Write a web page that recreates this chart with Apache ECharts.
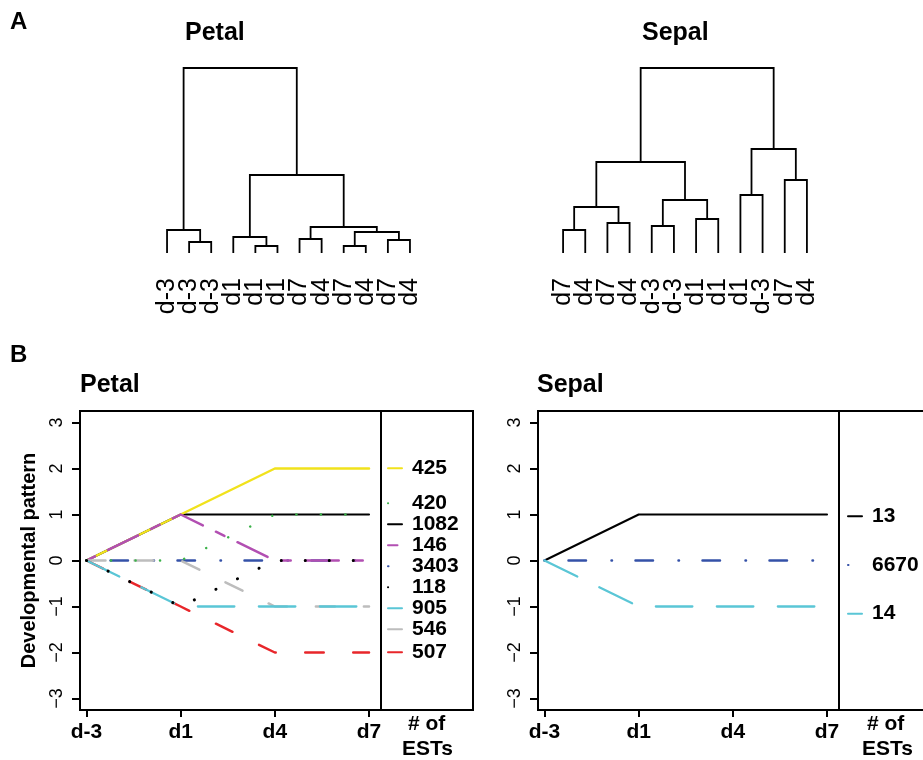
<!DOCTYPE html>
<html>
<head>
<meta charset="utf-8">
<script src="https://cdn.jsdelivr.net/npm/echarts@6/dist/echarts.min.js"></script>
<style>
  html, body { margin: 0; padding: 0; background: #fff; }
  #chart { width: 923px; height: 760px; }
</style>
</head>
<body>
<div id="chart"></div>
<script>
// A: dendrograms, leaves in plotted order; merges like hclust (-i = leaf i, k = k-th merge)
const petalLeaves = ['d-3', 'd-3', 'd-3', 'd1', 'd1', 'd1', 'd7', 'd4', 'd7', 'd4', 'd7', 'd4']
const petalMerge = [[-2, -3], [-1, 1], [-5, -6], [-4, 3], [-7, -8], [-9, -10], [-11, -12], [6, 7], [5, 8], [4, 9], [2, 10]]
const petalHeight = [1.1, 2.3, 0.7, 1.6, 1.4, 0.7, 1.3, 2.1, 2.6, 7.8, 18.5]

const sepalLeaves = ['d7', 'd4', 'd7', 'd4', 'd-3', 'd-3', 'd1', 'd1', 'd1', 'd-3', 'd7', 'd4']
const sepalMerge = [[-1, -2], [-3, -4], [1, 2], [-5, -6], [-7, -8], [4, 5], [3, 6], [-9, -10], [-11, -12], [8, 9], [7, 10]]
const sepalHeight = [2.3, 3.0, 4.6, 2.7, 3.4, 5.3, 9.1, 5.8, 7.3, 10.4, 18.5]

// B: developmental patterns
const days = ['d-3', 'd1', 'd4', 'd7']
const yTicks = [-3, -2, -1, 0, 1, 2, 3]
const petalNames = ['425', '420', '1082', '146', '3403', '118', '905', '546', '507']
const petalPatterns = [
  [0, 1, 2, 2],
  [0, 0, 1, 1],
  [0, 1, 1, 1],
  [0, 1, 0, 0],
  [0, 0, 0, 0],
  [0, -1, 0, 0],
  [0, -1, -1, -1],
  [0, 0, -1, -1],
  [0, -1, -2, -2]
]
const sepalNames = ['13', '6670', '14']
const sepalPatterns = [[0, 1, 1, 1], [0, 0, 0, 0], [0, -1, -1, -1]]

// line look per pattern (R-like dash sequences)
const looks = {
  '425':  { color: '#f1e21c', width: 2.5, type: 'solid' },
  '420':  { color: '#3cb24a', width: 2.5, type: [0.1, 24.4] },
  '1082': { color: '#000000', width: 2, type: 'solid' },
  '146':  { color: '#b24fb2', width: 2.5, type: [9.5, 14.5, 33.5, 14.5] },
  '3403': { color: '#3451a8', width: 2.5, type: [0.5, 23.5, 17.5, 25.5] },
  '118':  { color: '#000000', width: 3, type: [0.1, 23.9] },
  '905':  { color: '#5ac6d6', width: 2.3, type: [36.5, 24.5] },
  '546':  { color: '#bdbdbd', width: 2.5, type: [19, 29] },
  '507':  { color: '#e8262a', width: 2.5, type: [18.5, 29.5] },
  '13':   { color: '#000000', width: 2, type: 'solid' },
  '6670': { color: '#3451a8', width: 2.5, type: [0.5, 23.5, 17.5, 25.5] },
  '14':   { color: '#5ac6d6', width: 2.3, type: [36.5, 24.5] }
}
const petalDrawOrder = ['1082', '425', '3403', '146', '546', '507', '905', '420', '118']

const font = '"Liberation Sans", Arial, sans-serif'

function dendroLines(merge, height) {
  const pos = []
  const node = k => k < 0 ? [-k - 1, 0] : [pos[k - 1], height[k - 1]]
  return merge.map((m, i) => {
    const a = node(m[0]), b = node(m[1])
    pos[i] = (a[0] + b[0]) / 2
    return { coords: [[a[0], a[1]], [a[0], height[i]], [b[0], height[i]], [b[0], b[1]]] }
  })
}

function dendroSeries(grid, merge, height, leaves) {
  return [
    {
      type: 'lines', coordinateSystem: 'cartesian2d', xAxisIndex: grid, yAxisIndex: grid,
      polyline: true, silent: true, lineStyle: { color: '#000', width: 1.8, opacity: 1 },
      data: dendroLines(merge, height)
    },
    {
      // leaf labels hanging under each leaf
      type: 'scatter', xAxisIndex: grid, yAxisIndex: grid, silent: true,
      symbolSize: 0, itemStyle: { opacity: 1 },
      data: leaves.map((l, i) => [i, 0]),
      label: {
        show: true, position: 'bottom', distance: 25, rotate: 90, opacity: 1,
        align: 'right', verticalAlign: 'middle', padding: [0, 0, 8, 0],
        fontSize: 25, color: '#000', fontFamily: font,
        formatter: p => leaves[p.dataIndex]
      }
    }
  ]
}

function dendroX(grid) {
  return { type: 'value', gridIndex: grid, min: -0.5, max: 11.5, show: false }
}

function patternX(grid) {
  return {
    type: 'value', gridIndex: grid, min: -0.069, max: 4.104,
    axisLine: { show: false, onZero: false }, splitLine: { show: false },
    axisTick: { customValues: [0, 1, 2, 3], length: 7, lineStyle: { color: '#000', width: 2 } },
    axisLabel: {
      customValues: [0, 1, 2, 3], margin: 12, fontSize: 21, fontWeight: 'bold',
      color: '#000', fontFamily: font, formatter: v => days[Math.round(v)]
    }
  }
}

function patternY(grid, name) {
  return {
    type: 'value', gridIndex: grid, min: -3.25, max: 3.25,
    name: name, nameLocation: 'middle', nameGap: 41, nameRotate: 90,
    nameTextStyle: { fontSize: 20, fontWeight: 'bold', color: '#000', fontFamily: font },
    axisLine: { show: false, onZero: false }, splitLine: { show: false },
    axisTick: { customValues: yTicks, length: 8, lineStyle: { color: '#000', width: 2 } },
    axisLabel: {
      customValues: yTicks, rotate: 90, margin: 14, fontSize: 18, color: '#000', fontFamily: font,
      formatter: v => v < 0 ? '\u2212' + (-v) : String(v)
    }
  }
}

function patternSeries(name, values, grid, withDivider) {
  const lk = looks[name]
  const s = {
    type: 'line', name: name, xAxisIndex: grid, yAxisIndex: grid,
    data: values.map((v, i) => [i, v]),
    symbol: 'none', silent: true,
    lineStyle: { color: lk.color, width: lk.width, type: lk.type, cap: 'round', join: 'round' },
    itemStyle: { color: lk.color }
  }
  if (withDivider) {
    s.markLine = {
      silent: true, symbol: ['none', 'none'], label: { show: false },
      lineStyle: { color: '#000', type: 'solid', width: 2 },
      data: [{ xAxis: 3.117 }]
    }
  }
  return s
}

function legend(names, left, top, gap) {
  return {
    data: names, orient: 'vertical', left: left, top: top, padding: 0,
    itemGap: gap, itemWidth: 14, itemHeight: 12, selectedMode: false,
    itemStyle: { color: 'rgba(0,0,0,0)', borderWidth: 0 },
    textStyle: { fontSize: 21, fontWeight: 'bold', color: '#000', fontFamily: font, lineHeight: 18.33, padding: [0, 0, 0, 5] }
  }
}

function title(text, left, top, size) {
  return { text: text, left: left, top: top, padding: 0,
    textStyle: { fontSize: size, fontWeight: 'bold', color: '#000', fontFamily: font } }
}

const series = []
  .concat(dendroSeries(0, petalMerge, petalHeight, petalLeaves))
  .concat(dendroSeries(1, sepalMerge, sepalHeight, sepalLeaves))
petalDrawOrder.forEach((n, i) => {
  series.push(patternSeries(n, petalPatterns[petalNames.indexOf(n)], 2, i === 0))
})
sepalNames.forEach((n, i) => {
  series.push(patternSeries(n, sepalPatterns[i], 3, i === 0))
})

const gridBox = { show: true, borderColor: '#000', borderWidth: 2, backgroundColor: 'transparent', outerBoundsMode: 'none' }

const chart = echarts.init(document.getElementById('chart'))
chart.setOption({
  animation: false,
  backgroundColor: '#fff',
  title: [
    title('A', 10, 10, 24),
    title('Petal', 185, 21, 25),
    title('Sepal', 642, 21, 25),
    title('B', 10, 343, 24),
    title('Petal', 80, 373, 25),
    title('Sepal', 537, 373, 25),
    title('# of', 408, 714, 21),
    title('ESTs', 402, 739, 21),
    title('# of', 867, 714, 21),
    title('ESTs', 862, 739, 21)
  ],
  legend: [
    legend(['425'], 387, 457.8, 0),
    legend(['420', '1082', '146', '3403', '118', '905', '546'], 387, 492.8, 0),
    legend(['507'], 387, 641.8, 0),
    legend(sepalNames, 847, 505.8, 27.67)
  ],
  grid: [
    { left: 156, top: 68, width: 265, height: 185, outerBoundsMode: 'none' },
    { left: 552, top: 68, width: 266, height: 185, outerBoundsMode: 'none' },
    Object.assign({ left: 80, top: 411, width: 393, height: 299 }, gridBox),
    Object.assign({ left: 538, top: 411, width: 393, height: 299 }, gridBox)
  ],
  xAxis: [dendroX(0), dendroX(1), patternX(2), patternX(3)],
  yAxis: [
    { type: 'value', gridIndex: 0, min: 0, max: 18.5, show: false },
    { type: 'value', gridIndex: 1, min: 0, max: 18.5, show: false },
    patternY(2, 'Developmental pattern'),
    patternY(3, '')
  ],
  series: series
})
</script>
</body>
</html>
